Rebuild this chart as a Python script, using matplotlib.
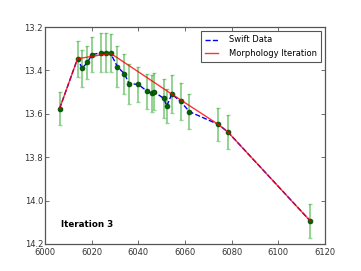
import matplotlib
matplotlib.use("Agg")
import matplotlib.pyplot as plt

# Swift photometry (days, magnitude, error)
days = [6006.2, 6013.9, 6015.9, 6018.1, 6020.1, 6024.1, 6026.1, 6028.1,
        6031.0, 6034.0, 6036.0, 6039.9, 6043.9, 6045.9, 6046.7, 6050.9,
        6052.2, 6054.3, 6058.1, 6061.9, 6074.3, 6078.4, 6113.7]
mags = [13.576, 13.346, 13.390, 13.363, 13.327, 13.318, 13.318, 13.321,
        13.383, 13.415, 13.461, 13.464, 13.497, 13.506, 13.498, 13.529,
        13.564, 13.509, 13.543, 13.590, 13.649, 13.684, 14.094]
errs = [0.075, 0.082, 0.084, 0.075, 0.080, 0.090, 0.090, 0.088,
        0.095, 0.092, 0.092, 0.082, 0.080, 0.085, 0.085, 0.088,
        0.077, 0.088, 0.085, 0.081, 0.075, 0.078, 0.080]

# morphology iteration model
model_days = [6006.2, 6013.9, 6028.1, 6054.3, 6074.3, 6078.4, 6113.7]
model_mags = [13.576, 13.346, 13.321, 13.509, 13.649, 13.684, 14.094]

fig = plt.figure(figsize=(3.61, 2.71), dpi=100)
ax = fig.add_axes([0.125, 0.1, 0.775, 0.8])

ax.errorbar(days, mags, yerr=errs, fmt='none', ecolor='#3cb03c', alpha=0.55,
            elinewidth=1.4, capsize=1.5, capthick=1.0)
ax.plot(days, mags, 'b--', lw=1.0, label='Swift Data', zorder=3)
ax.plot(days, mags, 'o', color='#006400', mec='#004000', ms=3.5, mew=0.5, zorder=4)
ax.plot(model_days, model_mags, 'r-', lw=1.0, alpha=0.8, label='Morphology Iteration', zorder=5)

ax.set_xlim(6000, 6120)
ax.set_ylim(14.2, 13.2)
ax.set_xticks(range(6000, 6121, 20))
ax.set_yticks([13.2, 13.4, 13.6, 13.8, 14.0, 14.2])
ax.set_yticklabels(['13.2', '13.4', '13.6', '13.8', '14.0', '14.2'])
ax.tick_params(direction='in', top=True, right=True, labelsize=6, length=3,
               width=0.5, colors='#333333', pad=1.5)
ax.tick_params(axis='x', pad=3)
for s in ax.spines.values():
    s.set_linewidth(0.9)
    s.set_color('#555555')

ax.text(6007, 14.12, 'Iteration 3', fontsize=6.3, fontweight='bold')

leg = ax.legend(loc='upper right', fontsize=6, fancybox=False,
                handlelength=1.5, handletextpad=1.3, borderpad=0.5,
                labelspacing=0.5, framealpha=1.0, edgecolor='#555555')
leg.get_frame().set_linewidth(0.8)

fig.savefig('out.png', dpi=100, facecolor='white')
